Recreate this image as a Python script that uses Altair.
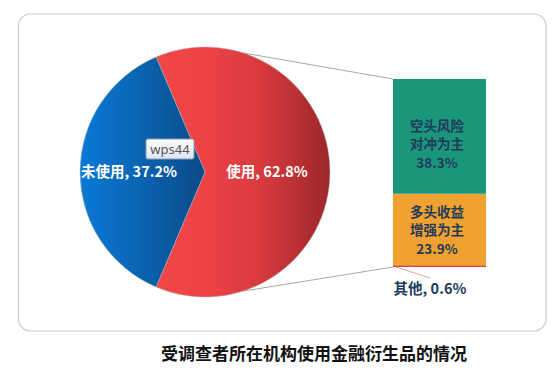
import altair as alt
import pandas as pd
import math

# ---- data ----
pie_names = ["使用", "未使用"]
pie_values = [62.8, 37.2]
pie_order = [0, 1]

bar_names = ["其他", "多头收益增强为主", "空头风险对冲为主"]
bar_values = [0.6, 23.9, 38.3]
bar_order = [0, 1, 2]
bar_labels = ["其他, 0.6%", "多头收益\n增强为主\n23.9%", "空头风险\n对冲为主\n38.3%"]
bar_colors = ["#e2452f", "#f1a12f", "#1a977b"]

title_text = "受调查者所在机构使用金融衍生品的情况"

pie_df = pd.DataFrame({"name": pie_names, "pct": pie_values, "order": pie_order})
bar_df = pd.DataFrame({"name": bar_names, "v": bar_values, "order": bar_order, "label": bar_labels})
one = pd.DataFrame({"a": [0]})

FONT = "Noto Sans CJK SC"
CX, CY, R = 197, 164, 125
TWO_PI = 2 * math.pi
# rotate so the "使用" slice is centred on the right (3 o'clock)
start = math.pi / 2 - (pie_values[0] / 100 * TWO_PI) / 2
y_scale = alt.Scale(domain=[0, pie_values[0]], range=[259, 71])

# frame
frame = alt.Chart(one).mark_rect(
    fill="white", stroke="#cccccc", strokeWidth=1.2, cornerRadius=12
).encode(x=alt.value(10.5), x2=alt.value(538), y=alt.value(6), y2=alt.value(323))

# connector lines (behind the pie)
ang = math.radians(17.6)
conn_top = alt.Chart(pd.DataFrame({"v": [pie_values[0]]})).mark_rule(
    color="#a8a8a8", strokeWidth=1
).encode(
    y=alt.Y("v:Q", scale=y_scale, axis=None),
    x=alt.value(385),
    x2=alt.value(CX + R * math.sin(ang)),
    y2=alt.value(CY - R * math.cos(ang)),
)
conn_bot = alt.Chart(pd.DataFrame({"v": [0.0]})).mark_rule(
    color="#a8a8a8", strokeWidth=1
).encode(
    y=alt.Y("v:Q", scale=y_scale, axis=None),
    x=alt.value(385),
    x2=alt.value(CX + R * math.sin(ang)),
    y2=alt.value(CY + R * math.cos(ang)),
)

red_grad = alt.LinearGradient(
    gradient="linear", x1=0, y1=0, x2=1, y2=0,
    stops=[
        alt.GradientStop(color="#f2464a", offset=0),
        alt.GradientStop(color="#ec4246", offset=0.3),
        alt.GradientStop(color="#d83a3e", offset=0.6),
        alt.GradientStop(color="#9c272b", offset=1),
    ],
)
blue_grad = alt.LinearGradient(
    gradient="linear", x1=0, y1=0, x2=1, y2=0,
    stops=[
        alt.GradientStop(color="#0a79d6", offset=0),
        alt.GradientStop(color="#0a63b0", offset=0.5),
        alt.GradientStop(color="#0a4a86", offset=1),
    ],
)

pie_base = alt.Chart(pie_df).transform_stack(
    stack="pct", as_=["t0", "t1"], groupby=[], sort=[alt.SortField("order")]
).transform_calculate(
    a0=f"{start} + datum.t0 / 100 * {TWO_PI}",
    a1=f"{start} + datum.t1 / 100 * {TWO_PI}",
    amid=f"{start} + (datum.t0 + datum.t1) / 200 * {TWO_PI}",
    lbl="datum.name + ', ' + format(datum.pct, '.1f') + '%'",
)


def slice_layer(name, grad):
    return pie_base.transform_filter(alt.datum.name == name).mark_arc(
        radius=R, fill=grad, stroke="#b8b8b8", strokeWidth=0.5
    ).encode(
        theta=alt.Theta("a0:Q", scale=None), theta2="a1:Q",
        x=alt.value(CX), y=alt.value(CY),
    )


def pie_label(name, rad):
    return pie_base.transform_filter(alt.datum.name == name).mark_text(
        radius=rad, font=FONT, fontSize=14.5, fontWeight="bold", color="white",
        align="center", baseline="middle"
    ).encode(
        theta=alt.Theta("amid:Q", scale=None), text="lbl:N",
        x=alt.value(CX), y=alt.value(CY + 1),
    )


red_arc = slice_layer("使用", red_grad)
blue_arc = slice_layer("未使用", blue_grad)
red_lbl = pie_label("使用", 62)
blue_lbl = pie_label("未使用", 76)

# stacked bar
bar_base = alt.Chart(bar_df).transform_stack(
    stack="v", as_=["s0", "s1"], groupby=[], sort=[alt.SortField("order")]
).transform_calculate(smid="(datum.s0 + datum.s1) / 2")

bar = bar_base.mark_rect().encode(
    y=alt.Y("s0:Q", scale=y_scale, axis=None), y2="s1:Q",
    x=alt.value(385), x2=alt.value(478),
    fill=alt.Fill("name:N", scale=alt.Scale(domain=bar_names, range=bar_colors), legend=None),
)


def bar_label_lines(order, nlines, base_dy, step, xpos, size=13.5):
    layers = []
    for k in range(nlines):
        layers.append(
            bar_base.transform_filter(alt.datum.order == order)
            .transform_calculate(line=f"split(datum.label, '\\n')[{k}]")
            .mark_text(
                dy=base_dy + k * step, font=FONT, fontSize=size, fontWeight="bold",
                color="#203a5c", align="center", baseline="middle"
            ).encode(
                y=alt.Y("smid:Q", scale=y_scale, axis=None),
                x=alt.value(xpos), text="line:N",
            )
        )
    return layers


lbl_layers = (
    bar_label_lines(2, 3, -9.5, 18.5, 429)
    + bar_label_lines(1, 3, -16.5, 18.5, 429)
    + bar_label_lines(0, 1, 24, 0, 422, 14.5)
)

leader = bar_base.transform_filter(alt.datum.order == 0).mark_rule(
    color="#d8a8a4", strokeWidth=1
).encode(
    y=alt.Y("s0:Q", scale=y_scale, axis=None),
    x=alt.value(388), x2=alt.value(422), y2=alt.value(270),
)

# wps44 tag
tag_grad = alt.LinearGradient(
    gradient="linear", x1=0, y1=0, x2=0, y2=1,
    stops=[alt.GradientStop(color="#fbfcfd", offset=0),
           alt.GradientStop(color="#dfe6ee", offset=1)],
)
tag_box = alt.Chart(one).mark_rect(
    fill=tag_grad, stroke="#8d9cb0", strokeWidth=1, cornerRadius=2
).encode(x=alt.value(138), x2=alt.value(186), y=alt.value(131), y2=alt.value(151))
tag_txt = alt.Chart(one).mark_text(
    text="wps44", font="Noto Sans", fontSize=13, color="#555555",
    align="center", baseline="middle"
).encode(x=alt.value(162), y=alt.value(141.5))

title = alt.Chart(one).mark_text(
    text=title_text, font=FONT, fontSize=17, fontWeight="bold", color="#111111",
    align="center", baseline="middle"
).encode(x=alt.value(306), y=alt.value(347))

chart = alt.layer(
    frame, conn_top, conn_bot, red_arc, blue_arc, red_lbl, blue_lbl,
    leader, bar, *lbl_layers, tag_box, tag_txt, title
).properties(width=544, height=357, padding=0, autosize="none").configure_view(stroke=None)

chart.save("out.html", embed_options={"renderer": "svg", "actions": False})
